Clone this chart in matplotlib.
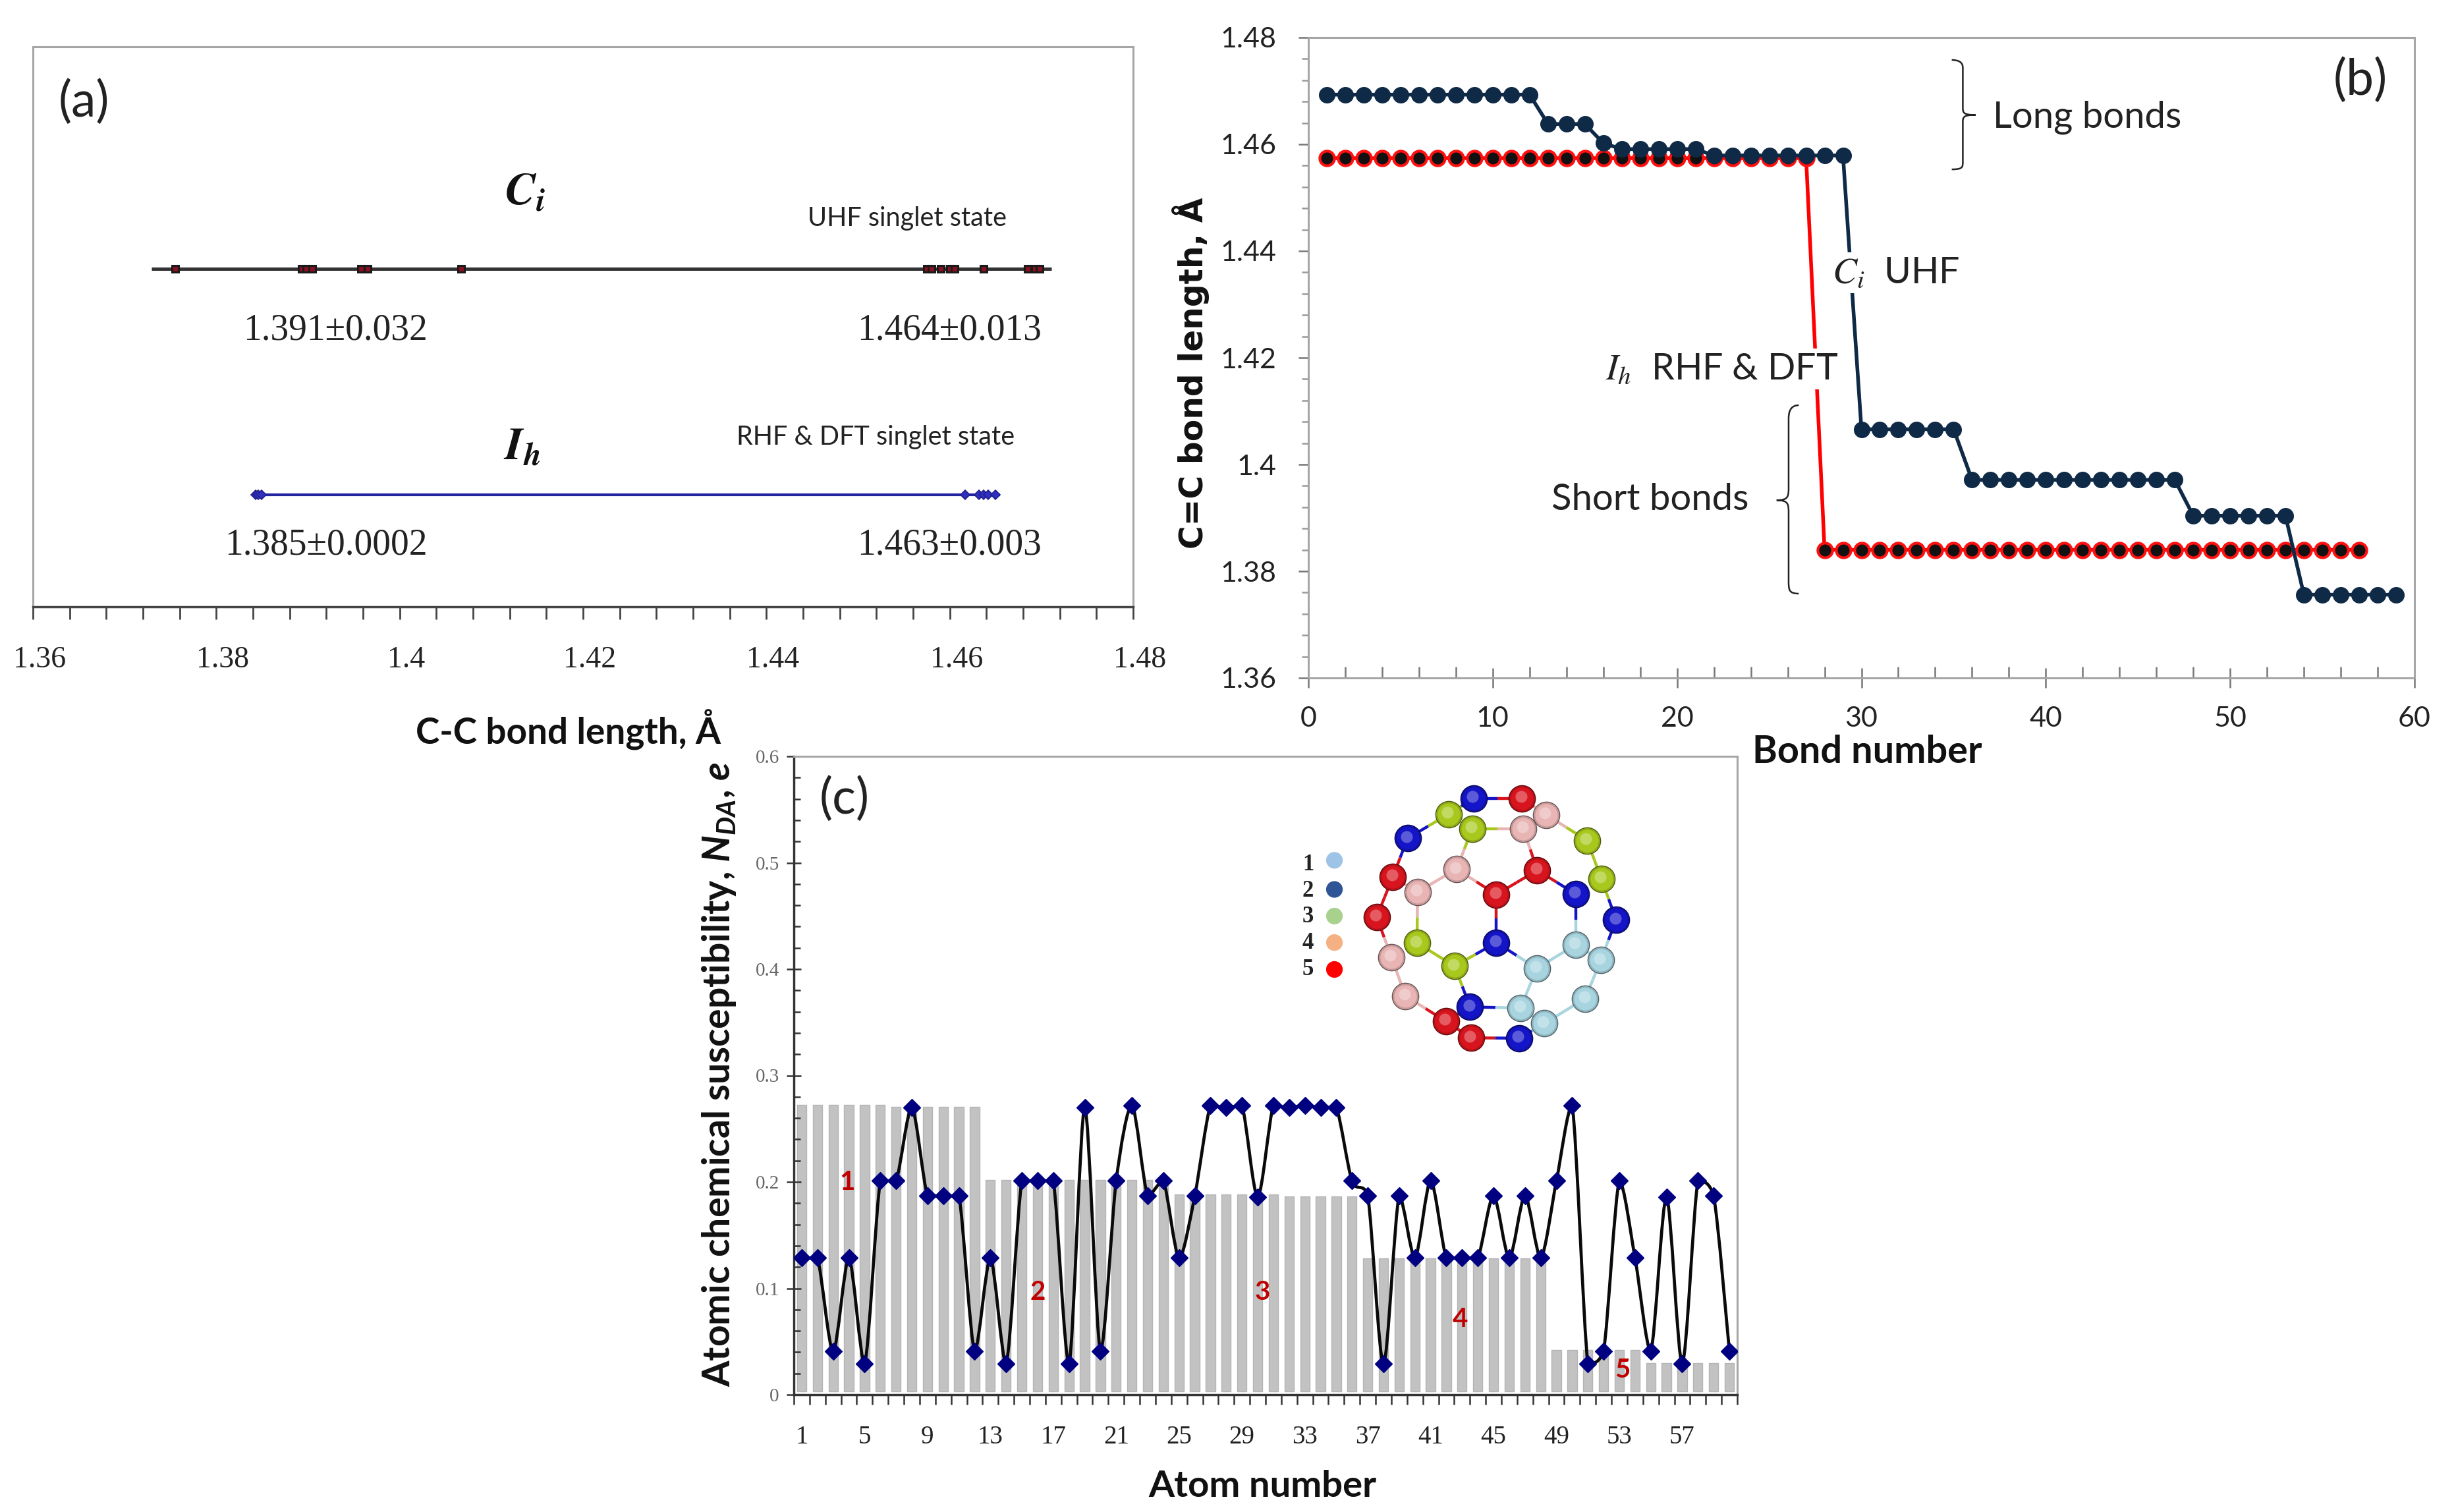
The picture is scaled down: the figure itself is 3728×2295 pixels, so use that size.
import numpy as np
import matplotlib
matplotlib.use("Agg")
import matplotlib.pyplot as plt
from matplotlib.path import Path
from matplotlib.patches import PathPatch
from matplotlib.ticker import MultipleLocator, FixedLocator
from matplotlib.transforms import ScaledTranslation
from matplotlib.colors import to_rgb

# ---------- panel (a) ----------
ci_bonds = [1.3755, 1.3893, 1.3898, 1.3905, 1.3958, 1.3965, 1.4067, 1.4575, 1.458, 1.459, 1.46,
            1.4605, 1.4637, 1.4685, 1.4693, 1.4698]
ci_span = [1.3729, 1.4711]
ih_bonds = [1.3843, 1.3846, 1.3849, 1.4617, 1.4632, 1.4637, 1.4642, 1.465]
ih_span = [1.3846, 1.4655]
a_ticks = [1.36, 1.38, 1.4, 1.42, 1.44, 1.46, 1.48]
a_labels = ["1.36", "1.38", "1.4", "1.42", "1.44", "1.46", "1.48"]

# ---------- panel (b) ----------
bond_ci = list(range(1, 60))
len_ci = [1.4693] * 12 + [1.4638] * 3 + [1.4602] + [1.4591] * 5 + [1.4579] * 8 + [1.4066] * 6 + \
         [1.3971] * 12 + [1.3904] * 6 + [1.3756] * 6
bond_ih = list(range(1, 58))
len_ih = [1.4574] * 27 + [1.384] * 30

# ---------- panel (c) ----------
atom_no = list(range(1, 61))
bar_vals = [0.2725] * 6 + [0.2705] * 6 + [0.202] * 12 + [0.188] * 7 + [0.1864] * 5 + [0.128] * 12 + \
           [0.042] * 6 + [0.030] * 6
line_vals = [0.1285, 0.1285, 0.041, 0.1285, 0.029, 0.201, 0.201, 0.27, 0.187, 0.187, 0.187, 0.041,
             0.1285, 0.029, 0.201, 0.201, 0.201, 0.029, 0.27, 0.041, 0.201, 0.272, 0.187, 0.201,
             0.1285, 0.187, 0.272, 0.27, 0.272, 0.186, 0.272, 0.27, 0.272, 0.27, 0.27, 0.201,
             0.187, 0.029, 0.187, 0.1285, 0.201, 0.1285, 0.1285, 0.1285, 0.187, 0.1285, 0.187, 0.1285,
             0.201, 0.272, 0.029, 0.041, 0.201, 0.1285, 0.041, 0.186, 0.029, 0.201, 0.187, 0.041]
c_xlabels = [1, 5, 9, 13, 17, 21, 25, 29, 33, 37, 41, 45, 49, 53, 57]
group_names = ["1", "2", "3", "4", "5"]
group_x = [3.9, 16.0, 30.3, 42.9, 53.2]
group_y = [0.200, 0.096, 0.096, 0.071, 0.023]

# ---------- inset molecule ----------
atom_x = [825, 1005, 733, 1095, 820, 1010, 580, 1247, 762, 1062, 525, 1300, 617, 910, 1205, 465, 1355,
          615, 910, 1205, 1298, 520, 1060, 755, 572, 1240, 812, 1000, 722, 1088, 815, 995]
atom_y = [185, 185, 255, 258, 322, 322, 365, 375, 505, 510, 540, 548, 608, 620, 618, 722, 735,
          840, 838, 848, 918, 905, 955, 945, 1080, 1092, 1130, 1135, 1195, 1205, 1270, 1272]
atom_kind = ["b", "r", "g", "p", "g", "p", "b", "g", "p", "r", "r", "g", "p", "r", "b", "r", "b",
             "g", "b", "c", "c", "p", "c", "g", "p", "c", "b", "c", "r", "c", "r", "b"]
bonds = [(0, 1), (0, 2), (1, 3), (2, 6), (4, 5), (4, 8), (5, 9), (5, 3), (3, 7), (7, 11), (11, 16), (6, 10),
         (10, 15), (10, 12), (12, 8), (8, 13), (13, 9), (9, 14), (13, 18), (14, 19), (12, 17), (17, 23),
         (23, 18), (18, 22), (22, 19), (19, 20), (20, 16), (22, 27), (20, 25), (25, 29), (27, 26), (27, 29),
         (29, 31), (31, 30), (30, 28), (28, 26), (28, 24), (24, 21), (21, 15), (23, 26)]
draw_order = [3, 0, 1, 2, 5, 4, 6, 7, 8, 9, 12, 10, 11, 13, 14, 15, 16, 17, 18, 19, 20, 21, 22, 23,
              24, 25, 27, 26, 29, 28, 30, 31]
kind_col = {"b": "#1414c8", "r": "#d8141e", "g": "#a8c81e", "p": "#e8b4b4", "c": "#a8d4e0"}
legend_names = ["1", "2", "3", "4", "5"]
legend_cols = ["#9dc3e6", "#2f5597", "#a9d18e", "#f4b183", "#ff0000"]
legend_y = [465, 597, 718, 838, 960]
legend_num_y = [485, 605, 720, 840, 960]

W, H = 3728, 2295
DPI = 100
plt.rcParams["font.family"] = ["Lato", "DejaVu Sans"]
plt.rcParams["mathtext.fontset"] = "custom"
plt.rcParams["mathtext.rm"] = "Lato"
plt.rcParams["mathtext.it"] = "Lato:italic"
plt.rcParams["mathtext.bf"] = "Lato:bold"
plt.rcParams["mathtext.bfit"] = "Lato:italic:bold"
SERIF = "Liberation Serif"
GREY = "#a6a6a6"

fig = plt.figure(figsize=(W / DPI, H / DPI), dpi=DPI, facecolor="white")


def place(l, t, r, b):
    return fig.add_axes([l / W, 1 - b / H, (r - l) / W, (b - t) / H])


def ftext(x, y, s, **kw):
    kw.setdefault("ha", "center")
    kw.setdefault("va", "center")
    return fig.text(x / W, 1 - y / H, s, **kw)


def brace(ax, x_end, x_spine, x_tip, y_top, y_mid, y_bot):
    d = (y_top - y_bot) * 0.07
    verts = [(x_end, y_top), (x_spine, y_top), (x_spine, y_top - d),
             (x_spine, y_mid + d),
             (x_spine, y_mid + d * 0.3), (x_spine, y_mid), (x_tip, y_mid),
             (x_spine, y_mid), (x_spine, y_mid - d * 0.3), (x_spine, y_mid - d),
             (x_spine, y_bot + d),
             (x_spine, y_bot + d * 0.3), (x_spine, y_bot), (x_end, y_bot)]
    codes = [Path.MOVETO, Path.CURVE3, Path.CURVE3, Path.LINETO, Path.CURVE4, Path.CURVE4, Path.CURVE4,
             Path.CURVE4, Path.CURVE4, Path.CURVE4, Path.LINETO, Path.CURVE4, Path.CURVE4, Path.CURVE4]
    ax.add_patch(PathPatch(Path(verts, codes), fc="none", ec="#222222", lw=1.8, zorder=4))


# ================= (a) =================
ax = place(50, 71, 1720, 921)
ax.set_xlim(1.36, 1.48)
ax.set_ylim(0, 1)
ax.yaxis.set_visible(False)
for s in ("top", "left", "right"):
    ax.spines[s].set_color(GREY)
    ax.spines[s].set_linewidth(2.2)
ax.spines["bottom"].set_color("#444444")
ax.spines["bottom"].set_linewidth(2.5)
ax.set_xticks(a_ticks)
ax.set_xticklabels(a_labels, fontfamily=SERIF, fontsize=33, color="#222222")
ax.xaxis.set_minor_locator(MultipleLocator(0.004))
ax.tick_params(axis="x", which="major", length=14, width=2, color="#444444", pad=29)
ax.tick_params(axis="x", which="minor", length=14, width=2, color="#444444")
off = ScaledTranslation(10 / DPI, 0, fig.dpi_scale_trans)
for t in ax.get_xticklabels():
    t.set_transform(t.get_transform() + off)
CI_Y, IH_Y = 0.603, 0.2
ax.plot(ci_span, [CI_Y, CI_Y], color="#333333", lw=3.6, solid_capstyle="butt", zorder=2)
ax.plot(ci_bonds, [CI_Y] * len(ci_bonds), ls="none", marker="s", ms=7, mfc="#8a1020", mec="#1a1a1a", mew=2.2, zorder=3)
ax.plot(ih_span, [IH_Y, IH_Y], color="#2424a0", lw=3, solid_capstyle="butt", zorder=2)
ax.plot(ih_bonds, [IH_Y] * len(ih_bonds), ls="none", marker="D", ms=7.5, mfc="#3030c0", mec="#20208c", mew=1.2, zorder=3)

ftext(127, 155, "(a)", fontsize=54, color="#222222")
ftext(797, 292, r"$\mathbfit{C}_{\mathbfit{i}}$", fontsize=50, math_fontfamily="stix", color="#111111")
ftext(792, 678, r"$\mathbfit{I}_{\mathbfit{h}}$", fontsize=50, math_fontfamily="stix", color="#111111")
ftext(1377, 332, "UHF singlet state", fontsize=28.5, color="#222222")
ftext(1329, 663, "RHF & DFT singlet state", fontsize=28.5, color="#222222")
for x, y, s in [(509, 501, "1.391±0.032"), (1441, 501, "1.464±0.013"),
                (495, 827, "1.385±0.0002"), (1441, 827, "1.463±0.003")]:
    ftext(x, y, s, fontfamily=SERIF, fontsize=40, color="#222222")
ftext(863, 1108, "C-C bond length, Å", fontsize=39.5, fontweight="bold", color="#111111")

# ================= (b) =================
ax = place(1986, 57, 3665, 1029)
ax.set_xlim(0, 60)
ax.set_ylim(1.36, 1.48)
for s in ax.spines.values():
    s.set_color(GREY)
    s.set_linewidth(2.2)
ax.xaxis.set_major_locator(MultipleLocator(10))
ax.xaxis.set_minor_locator(MultipleLocator(2))
ax.yaxis.set_minor_locator(MultipleLocator(0.004))
ax.set_yticks([1.36, 1.38, 1.4, 1.42, 1.44, 1.46, 1.48])
ax.set_yticklabels(["1.36", "1.38", "1.4", "1.42", "1.44", "1.46", "1.48"])
ax.tick_params(axis="x", which="major", direction="inout", length=22, width=1.8, color="#777777",
               labelsize=31, pad=20, labelcolor="#222222")
ax.tick_params(axis="x", which="minor", direction="in", length=12, width=1.8, color="#777777")
ax.tick_params(axis="y", which="major", direction="out", length=11, width=1.8, color="#777777",
               labelsize=31, pad=24, labelcolor="#222222")
ax.tick_params(axis="y", which="minor", direction="out", length=7, width=1.8, color="#999999")
ax.plot(bond_ih, len_ih, color="#ff0000", lw=4, marker="o", ms=18, mfc="#ff1010", mec="#ff1010", zorder=2)
ax.plot(bond_ih, len_ih, ls="none", marker="o", ms=12, mfc="#111111", mec="#111111", zorder=3)
ax.plot(bond_ci, len_ci, color="#0f2a47", lw=4, marker="o", ms=17, mfc="#0f2a47", mec="#0f2a47", zorder=4)
brace(ax, 34.9, 35.5, 36.2, 1.4758, 1.4655, 1.4553)
brace(ax, 26.6, 26.05, 25.4, 1.4111, 1.3933, 1.3758)
wb = dict(fc="white", ec="none", pad=4)
ftext(3168, 178, "Long bonds", fontsize=40.5, color="#222222")
ftext(2505, 759, "Short bonds", fontsize=40.5, color="#222222")
ftext(2878, 414, r"$C_i$  UHF", fontsize=40, color="#222222", math_fontfamily="stix", bbox=wb, zorder=6)
ftext(2614, 560, r"$I_h$  RHF & DFT", fontsize=40, color="#222222", math_fontfamily="stix", bbox=wb, zorder=6)
ftext(3583, 122, "(b)", fontsize=54, color="#222222")
ftext(1807, 566, "C=C bond length, Å", fontsize=35, fontweight="bold", rotation=90, fontfamily="DejaVu Sans", color="#111111")
ftext(2834, 1141, "Bond number", fontsize=41.5, fontweight="bold", color="#111111")

# ================= (c) =================
ax = place(1205, 1148, 2637, 2117)
ax.set_xlim(0.5, 60.5)
ax.set_ylim(0, 0.6)
for s in ("top", "right"):
    ax.spines[s].set_color(GREY)
    ax.spines[s].set_linewidth(2.2)
for s in ("left", "bottom"):
    ax.spines[s].set_color("#333333")
    ax.spines[s].set_linewidth(2.5)
GAP = 0.003
ax.bar(atom_no, np.array(bar_vals) - GAP, bottom=GAP, width=0.6, color="#c2c2c2", edgecolor="#b4b4b4", linewidth=1, zorder=1)

pts = np.column_stack([atom_no, line_vals])
verts = [pts[0]]
codes = [Path.MOVETO]
for i in range(len(pts) - 1):
    p0 = pts[max(i - 1, 0)]
    p1 = pts[i]
    p2 = pts[i + 1]
    p3 = pts[min(i + 2, len(pts) - 1)]
    c1 = p1 + (p2 - p0) / 7
    c2 = p2 - (p3 - p1) / 7
    lo, hi = min(p1[1], p2[1]), max(p1[1], p2[1])
    c1[1] = np.clip(c1[1], lo, hi)
    c2[1] = np.clip(c2[1], lo, hi)
    verts += [c1, c2, p2]
    codes += [Path.CURVE4] * 3
ax.add_patch(PathPatch(Path(verts, codes), fc="none", ec="#0a0a0a", lw=3.4, zorder=2))
ax.plot(atom_no, line_vals, ls="none", marker="D", ms=13, mfc="#000080", mec="#000080", zorder=3)

ax.set_xticks(c_xlabels)
ax.set_xticklabels([str(v) for v in c_xlabels], fontfamily=SERIF, fontsize=28, color="#222222")
ax.tick_params(axis="x", which="major", length=0, pad=33)
ax.xaxis.set_minor_locator(FixedLocator(np.arange(0.5, 61, 1)))
ax.tick_params(axis="x", which="minor", direction="out", length=11, width=1.8, color="#333333")
ax.set_yticks([0, 0.1, 0.2, 0.3, 0.4, 0.5, 0.6])
ax.set_yticklabels(["0", "0.1", "0.2", "0.3", "0.4", "0.5", "0.6"], fontfamily=SERIF, fontsize=21, color="#666666")
ax.yaxis.set_minor_locator(MultipleLocator(0.02))
ax.tick_params(axis="y", which="major", direction="inout", length=16, width=1.8, color="#333333", pad=8)
ax.tick_params(axis="y", which="minor", direction="in", length=7, width=1.8, color="#333333")
for n, x, y in zip(group_names, group_x, group_y):
    ax.text(x, y, n, color="#c00000", fontsize=29, fontweight="bold", ha="center", va="center", zorder=4)
ftext(1282, 1213, "(c)", fontsize=54, color="#222222")
ftext(1916, 2256, "Atom number", fontsize=40.5, fontweight="bold", color="#111111")
ftext(1091, 1631, r"Atomic chemical susceptibility, $\mathbfit{N_{DA}}$, $\mathbfit{e}$", fontsize=41,
      fontweight="bold", rotation=90, color="#111111")

# inset: fullerene fragment
ins = place(1961, 1177, 2494, 1602)
ins.set_xlim(150, 1455)
ins.set_ylim(1350, 80)
ins.axis("off")
for i, j in bonds:
    mx, my = (atom_x[i] + atom_x[j]) / 2, (atom_y[i] + atom_y[j]) / 2
    ins.plot([atom_x[i], mx], [atom_y[i], my], color=kind_col[atom_kind[i]], lw=3.2, solid_capstyle="butt", zorder=1)
    ins.plot([mx, atom_x[j]], [my, atom_y[j]], color=kind_col[atom_kind[j]], lw=3.2, solid_capstyle="butt", zorder=1)
for k, idx in enumerate(draw_order):
    z = 2 + k * 0.01
    base = np.array(to_rgb(kind_col[atom_kind[idx]]))
    dark = base * 0.45
    light = base + (1 - base) * 0.3
    ins.scatter(atom_x[idx], atom_y[idx], s=900, color=[tuple(dark)], linewidths=0, zorder=z)
    ins.scatter(atom_x[idx], atom_y[idx], s=790, color=[tuple(base * 0.85)], linewidths=0, zorder=z + 0.001)
    ins.scatter(atom_x[idx], atom_y[idx], s=600, color=[tuple(base)], linewidths=0, zorder=z + 0.002)
    ins.scatter(atom_x[idx] - 4, atom_y[idx] - 8, s=170, color=[tuple(light)], linewidths=0, zorder=z + 0.003)
ins.scatter([308] * 5, legend_y, s=330, c=legend_cols, linewidths=0, zorder=2)
for n, y in zip(legend_names, legend_num_y):
    ins.text(210, y, n, fontfamily=SERIF, fontweight="bold", fontsize=25, color="#222222", ha="center", va="center")

fig.savefig("out.png", dpi=DPI, facecolor="white")
